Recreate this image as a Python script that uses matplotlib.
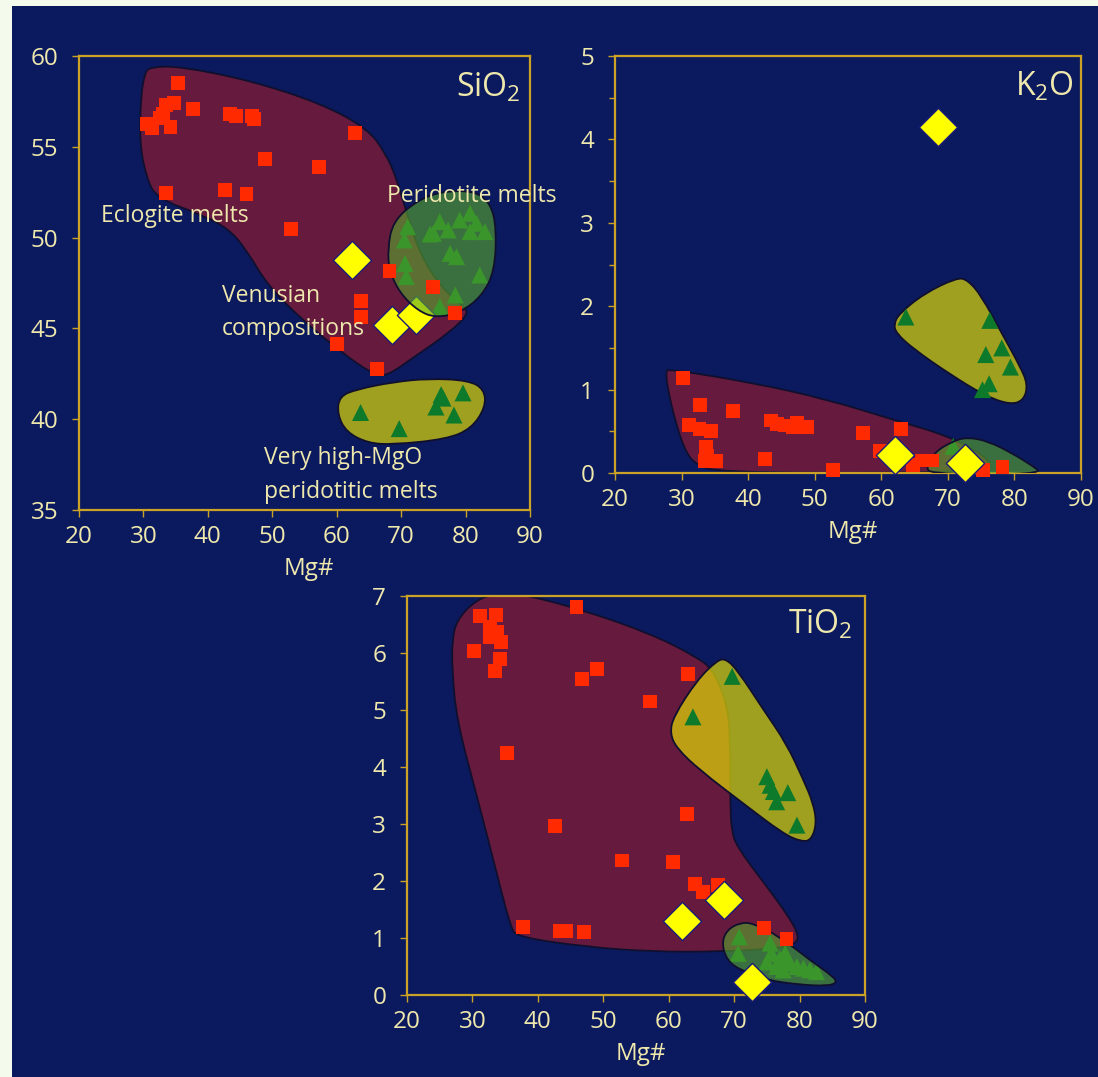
import matplotlib
matplotlib.use('Agg')
import matplotlib.pyplot as plt
from matplotlib.patches import PathPatch, Rectangle
from matplotlib.path import Path
from matplotlib.ticker import MultipleLocator

plt.rcParams['font.family'] = ['Open Sans', 'DejaVu Sans']
plt.rcParams['mathtext.default'] = 'regular'

NAVY = '#0b1a5e'
CREAM = '#f4fbec'
GOLD = '#c9a227'
TXT = '#efe8ad'
MAROON = '#661a3e'
GREEN_FILL = '#5aa82c'
OLIVE_FILL = '#e9e202'
RED = '#ff2a00'
TRI = '#0c7a2a'
YEL = '#ffff00'
EDGE = '#10102e'

# ---------------- SiO2 panel data ----------------
sio2_ecl_x = [30.5, 31.3, 32.5, 33.0, 33.5, 34.7, 34.2, 35.3, 37.7, 33.5, 43.5, 44.3, 46.9, 47.1,
              48.9, 42.7, 46.0, 52.9, 57.3, 62.9, 68.2, 63.8, 63.8, 60.1, 66.3, 75.0, 78.4]
sio2_ecl_y = [56.24, 56.04, 56.6, 56.8, 57.3, 57.4, 56.1, 58.5, 57.07, 52.46, 56.83, 56.7, 56.7, 56.55,
              54.33, 52.62, 52.4, 50.46, 53.88, 55.75, 48.18, 46.5, 45.62, 44.16, 42.77, 47.29, 45.84]
sio2_per_x = [71.0, 70.5, 70.6, 70.8, 76.0, 75.0, 77.3, 79.1, 80.7, 81.7, 83.0, 80.7, 77.6, 78.6,
              82.2, 78.4, 76.0, 72.6, 74.5]
sio2_per_y = [50.6, 49.87, 48.58, 47.85, 50.88, 50.24, 50.42, 50.97, 51.34, 50.79, 50.33, 50.33, 49.13,
              48.95, 47.94, 46.84, 46.2, 46.37, 50.2]
sio2_hmg_x = [63.7, 69.7, 76.2, 76.5, 75.4, 78.2, 79.6]
sio2_hmg_y = [40.37, 39.48, 41.35, 41.16, 40.67, 40.23, 41.45]
sio2_ven_x = [62.3, 68.6, 72.3]
sio2_ven_y = [48.77, 45.19, 45.72]

sio2_ecl_poly = [(31.0, 59.39), (35.5, 59.44), (46.5, 58.66), (57.6, 57.38), (64.8, 56.0), (67.6, 54.63),
                 (69.3, 53.25), (70.9, 51.3), (73.1, 48.93), (76.5, 47.15), (79.8, 46.17), (80.4, 45.78),
                 (77.6, 44.8), (72.0, 43.42), (67.6, 42.33), (65.4, 42.53), (61.0, 43.61), (54.9, 45.39),
                 (49.3, 47.35), (46.0, 49.32), (43.2, 50.5), (38.8, 51.28), (32.1, 52.17), (30.5, 53.25),
                 (29.4, 55.2), (29.6, 57.77), (30.2, 59.05)]
sio2_per_poly = [(67.9, 49.32), (68.7, 50.9), (72.6, 52.07), (76.5, 52.56), (81.5, 52.56), (83.9, 51.87),
                 (84.8, 50.5), (84.5, 48.14), (82.5, 46.77), (79.2, 45.88), (75.4, 45.58), (72.6, 45.97),
                 (69.8, 46.95), (68.2, 48.14)]
sio2_hmg_poly = [(60.4, 41.26), (63.2, 41.65), (68.7, 42.04), (74.3, 42.24), (80.4, 42.14), (82.9, 41.65),
                 (83.1, 40.67), (80.9, 39.48), (77.0, 38.9), (68.7, 38.6), (64.8, 38.69), (61.5, 39.29),
                 (60.1, 40.27)]

# ---------------- K2O panel data ----------------
k2o_ecl_x = [30.2, 32.8, 37.7, 31.1, 32.7, 34.4, 33.7, 33.8, 33.5, 35.2, 42.5, 43.4, 44.4, 45.6, 46.8,
             47.3, 48.9, 52.8, 57.2, 62.9, 59.8, 64.8, 66.1, 67.6, 75.3, 78.2]
k2o_ecl_y = [1.14, 0.82, 0.74, 0.58, 0.53, 0.50, 0.31, 0.21, 0.14, 0.14, 0.17, 0.63, 0.59, 0.57, 0.55,
             0.60, 0.55, 0.04, 0.48, 0.53, 0.26, 0.10, 0.15, 0.15, 0.04, 0.07]
k2o_hmg_x = [63.7, 76.3, 75.7, 78.1, 79.4, 76.2, 75.2]
k2o_hmg_y = [1.87, 1.83, 1.42, 1.50, 1.27, 1.07, 1.00]
k2o_per_x = [70.8]
k2o_per_y = [0.32]
k2o_ven_x = [68.5, 62.0, 72.5]
k2o_ven_y = [4.15, 0.21, 0.12]

k2o_ecl_poly = [(27.9, 1.25), (40.8, 1.08), (51.5, 0.89), (62.2, 0.63), (70.2, 0.44), (75.5, 0.21),
                (77.1, 0.03), (62.2, 0.0), (35.4, 0.01), (32.2, 0.10), (30.6, 0.25), (29.0, 0.63),
                (27.8, 1.06), (27.7, 1.21)]
k2o_per_poly = [(66.7, 0.06), (68.0, 0.25), (70.7, 0.38), (72.9, 0.43), (76.1, 0.38), (79.8, 0.23),
                (82.8, 0.08), (84.1, 0.0), (75.5, -0.02), (67.5, 0.0)]
k2o_hmg_poly = [(61.9, 1.79), (62.7, 1.91), (66.4, 2.15), (71.3, 2.34), (72.9, 2.32), (75.0, 2.13),
                (78.2, 1.66), (80.9, 1.27), (82.0, 1.06), (81.4, 0.87), (79.3, 0.82), (75.5, 0.93),
                (70.2, 1.19), (64.8, 1.49), (62.2, 1.68)]

# ---------------- TiO2 panel data ----------------
tio2_ecl_x = [31.2, 33.6, 32.7, 33.7, 32.7, 34.3, 30.3, 34.2, 33.4, 45.9, 46.7, 49.0, 62.9, 57.2, 35.3,
              42.6, 62.8, 52.8, 60.6, 64.0, 65.2, 67.6, 37.7, 43.3, 44.3, 47.1, 74.6, 78.0]
tio2_ecl_y = [6.65, 6.66, 6.46, 6.37, 6.28, 6.20, 6.04, 5.89, 5.68, 6.81, 5.55, 5.72, 5.63, 5.15, 4.24,
              2.97, 3.17, 2.36, 2.34, 1.95, 1.81, 1.93, 1.20, 1.13, 1.13, 1.11, 1.17, 0.99]
tio2_hmg_x = [69.7, 63.7, 75.0, 75.5, 76.0, 76.5, 78.2, 79.6]
tio2_hmg_y = [5.59, 4.88, 3.83, 3.68, 3.57, 3.39, 3.55, 2.98]
tio2_per_x = [70.8, 70.6, 75.5, 75.7, 77.0, 77.8, 78.5, 79.6, 80.6, 81.6, 82.6, 75.0, 76.5, 77.5]
tio2_per_y = [1.02, 0.73, 0.91, 0.73, 0.64, 0.73, 0.56, 0.50, 0.47, 0.44, 0.41, 0.58, 0.50, 0.44]
tio2_ven_x = [62.0, 68.5, 72.7]
tio2_ven_y = [1.30, 1.67, 0.23]

tio2_ecl_poly = [(27.6, 6.58), (30.7, 6.95), (34.3, 7.05), (37.8, 7.03), (47.0, 6.75), (57.2, 6.34),
                 (64.3, 5.93), (66.8, 5.70), (68.9, 5.11), (69.4, 4.53), (69.4, 3.36), (69.6, 2.89),
                 (70.4, 2.60), (75.0, 1.90), (78.0, 1.43), (79.8, 1.08), (79.6, 0.91), (77.0, 0.82),
                 (67.9, 0.76), (57.2, 0.76), (47.0, 0.85), (36.8, 1.02), (35.8, 1.20), (33.2, 2.37),
                 (30.7, 3.48), (27.6, 4.82), (26.9, 5.70), (26.9, 6.22)]
tio2_hmg_poly = [(60.2, 4.59), (60.7, 4.88), (64.3, 5.52), (67.4, 5.87), (68.7, 5.90), (70.5, 5.70),
                 (74.5, 5.00), (78.0, 4.41), (80.6, 3.77), (82.1, 3.36), (82.6, 3.01), (81.8, 2.72),
                 (80.3, 2.69), (77.5, 2.83), (71.4, 3.36), (64.8, 3.94), (61.2, 4.33)]
tio2_per_poly = [(68.1, 0.91), (68.9, 1.14), (70.9, 1.27), (72.9, 1.26), (77.0, 1.02), (81.6, 0.61),
                 (85.2, 0.32), (85.7, 0.21), (84.1, 0.16), (80.1, 0.18), (75.0, 0.26), (70.9, 0.44),
                 (68.9, 0.61)]

W, H = 1098, 1077
fig = plt.figure(figsize=(W / 100, H / 100), dpi=100, facecolor=CREAM)
fig.patches.append(Rectangle((12 / W, 0), 1 - 12 / W, 1 - 6 / H, transform=fig.transFigure,
                             facecolor=NAVY, edgecolor='none', zorder=-10))


def make_axes(px):
    l, r, t, b = px
    ax = fig.add_axes([l / W, 1 - b / H, (r - l) / W, (b - t) / H])
    ax.set_zorder(5)
    ax.set_facecolor(NAVY)
    for s in ax.spines.values():
        s.set_color(GOLD)
        s.set_linewidth(1.6)
    ax.tick_params(which='both', direction='out', color=GOLD, labelcolor=TXT, labelsize=17.5, width=1)
    ax.tick_params(axis='x', which='major', length=5, pad=6)
    ax.tick_params(axis='y', which='major', length=5, pad=10)
    ax.tick_params(which='minor', length=4)
    ax.set_xlim(20, 90)
    ax.xaxis.set_major_locator(MultipleLocator(10))
    ax.text(0.51, -59 / (b - t), 'Mg#', transform=ax.transAxes, ha='center', va='center',
            color=TXT, fontsize=17.5)
    return ax


def smooth_path(pts):
    # closed quadratic-Bezier outline: outline vertices act as control points
    n = len(pts)
    mids = [((pts[i][0] + pts[(i + 1) % n][0]) / 2, (pts[i][1] + pts[(i + 1) % n][1]) / 2)
            for i in range(n)]
    verts = [mids[-1]]
    codes = [Path.MOVETO]
    for i in range(n):
        verts += [pts[i], mids[i]]
        codes += [Path.CURVE3, Path.CURVE3]
    verts.append(mids[-1])
    codes.append(Path.CLOSEPOLY)
    return Path(verts, codes)


def poly(ax, pts, color, alpha, z):
    p = smooth_path(pts)
    ax.add_patch(PathPatch(p, facecolor=color, alpha=alpha, edgecolor='none', zorder=z))
    ax.add_patch(PathPatch(p, facecolor='none', edgecolor=EDGE, lw=1.3, zorder=z + 0.01))


def squares(ax, x, y, z=5):
    ax.scatter(x, y, marker='s', s=100, color=RED, edgecolors='none', zorder=z, clip_on=False)


def tris(ax, x, y, z):
    ax.scatter(x, y, marker='^', s=150, color=TRI, edgecolors='none', zorder=z, clip_on=False)


def diamonds(ax, x, y, z=6):
    ax.scatter(x, y, marker='D', s=380, color=YEL, edgecolors='#1c1c7a', linewidths=1.0,
               zorder=z, clip_on=False)


# ---- SiO2 ----
ax1 = make_axes((79, 530, 56, 510))
ax1.set_ylim(35, 60)
ax1.yaxis.set_major_locator(MultipleLocator(5))
poly(ax1, sio2_ecl_poly, MAROON, 1.0, 1)
tris(ax1, sio2_per_x, sio2_per_y, 2)
diamonds(ax1, sio2_ven_x, sio2_ven_y, 2.5)
poly(ax1, sio2_per_poly, GREEN_FILL, 0.6, 3)
poly(ax1, sio2_hmg_poly, OLIVE_FILL, 0.67, 3)
tris(ax1, sio2_hmg_x, sio2_hmg_y, 4)
squares(ax1, sio2_ecl_x, sio2_ecl_y)
ax1.text(0.978, 0.911, 'SiO$_2$', transform=ax1.transAxes, ha='right', va='baseline',
         color=TXT, fontsize=23, zorder=10)
ax1.text(23.4, 51.19, 'Eclogite melts', ha='left', va='center', color=TXT, fontsize=16.5, zorder=10)
ax1.text(67.8, 52.3, 'Peridotite melts', ha='left', va='center', color=TXT, fontsize=16.5, zorder=10,
         clip_on=False)
ax1.text(42.2, 46.76, 'Venusian', ha='left', va='center', color=TXT, fontsize=16.5, zorder=10)
ax1.text(42.2, 44.99, 'compositions', ha='left', va='center', color=TXT, fontsize=16.5, zorder=10)
ax1.text(48.65, 37.87, 'Very high-MgO', ha='left', va='center', color=TXT, fontsize=16.5, zorder=10)
ax1.text(48.65, 35.99, 'peridotitic melts', ha='left', va='center', color=TXT, fontsize=16.5, zorder=10)

# ---- K2O ----
ax2 = make_axes((615, 1081, 56, 473))
ax2.set_ylim(0, 5)
ax2.yaxis.set_major_locator(MultipleLocator(1))
ax2.yaxis.set_minor_locator(MultipleLocator(0.5))
poly(ax2, k2o_ecl_poly, MAROON, 1.0, 1)
tris(ax2, k2o_per_x, k2o_per_y, 2)
poly(ax2, k2o_per_poly, GREEN_FILL, 0.6, 3)
poly(ax2, k2o_hmg_poly, OLIVE_FILL, 0.67, 3)
tris(ax2, k2o_hmg_x, k2o_hmg_y, 4)
squares(ax2, k2o_ecl_x, k2o_ecl_y)
diamonds(ax2, k2o_ven_x, k2o_ven_y)
ax2.text(0.985, 0.905, 'K$_2$O', transform=ax2.transAxes, ha='right', va='baseline',
         color=TXT, fontsize=23, zorder=10)

# ---- TiO2 ----
ax3 = make_axes((407, 865, 596, 995))
ax3.set_ylim(0, 7)
ax3.yaxis.set_major_locator(MultipleLocator(1))
poly(ax3, tio2_ecl_poly, MAROON, 1.0, 1)
tris(ax3, tio2_per_x, tio2_per_y, 2)
poly(ax3, tio2_per_poly, GREEN_FILL, 0.6, 3)
poly(ax3, tio2_hmg_poly, OLIVE_FILL, 0.67, 3)
tris(ax3, tio2_hmg_x, tio2_hmg_y, 4)
squares(ax3, tio2_ecl_x, tio2_ecl_y)
diamonds(ax3, tio2_ven_x, tio2_ven_y)
ax3.text(0.973, 0.905, 'TiO$_2$', transform=ax3.transAxes, ha='right', va='baseline',
         color=TXT, fontsize=23, zorder=10)

fig.savefig('out.png', dpi=100, facecolor=CREAM)
